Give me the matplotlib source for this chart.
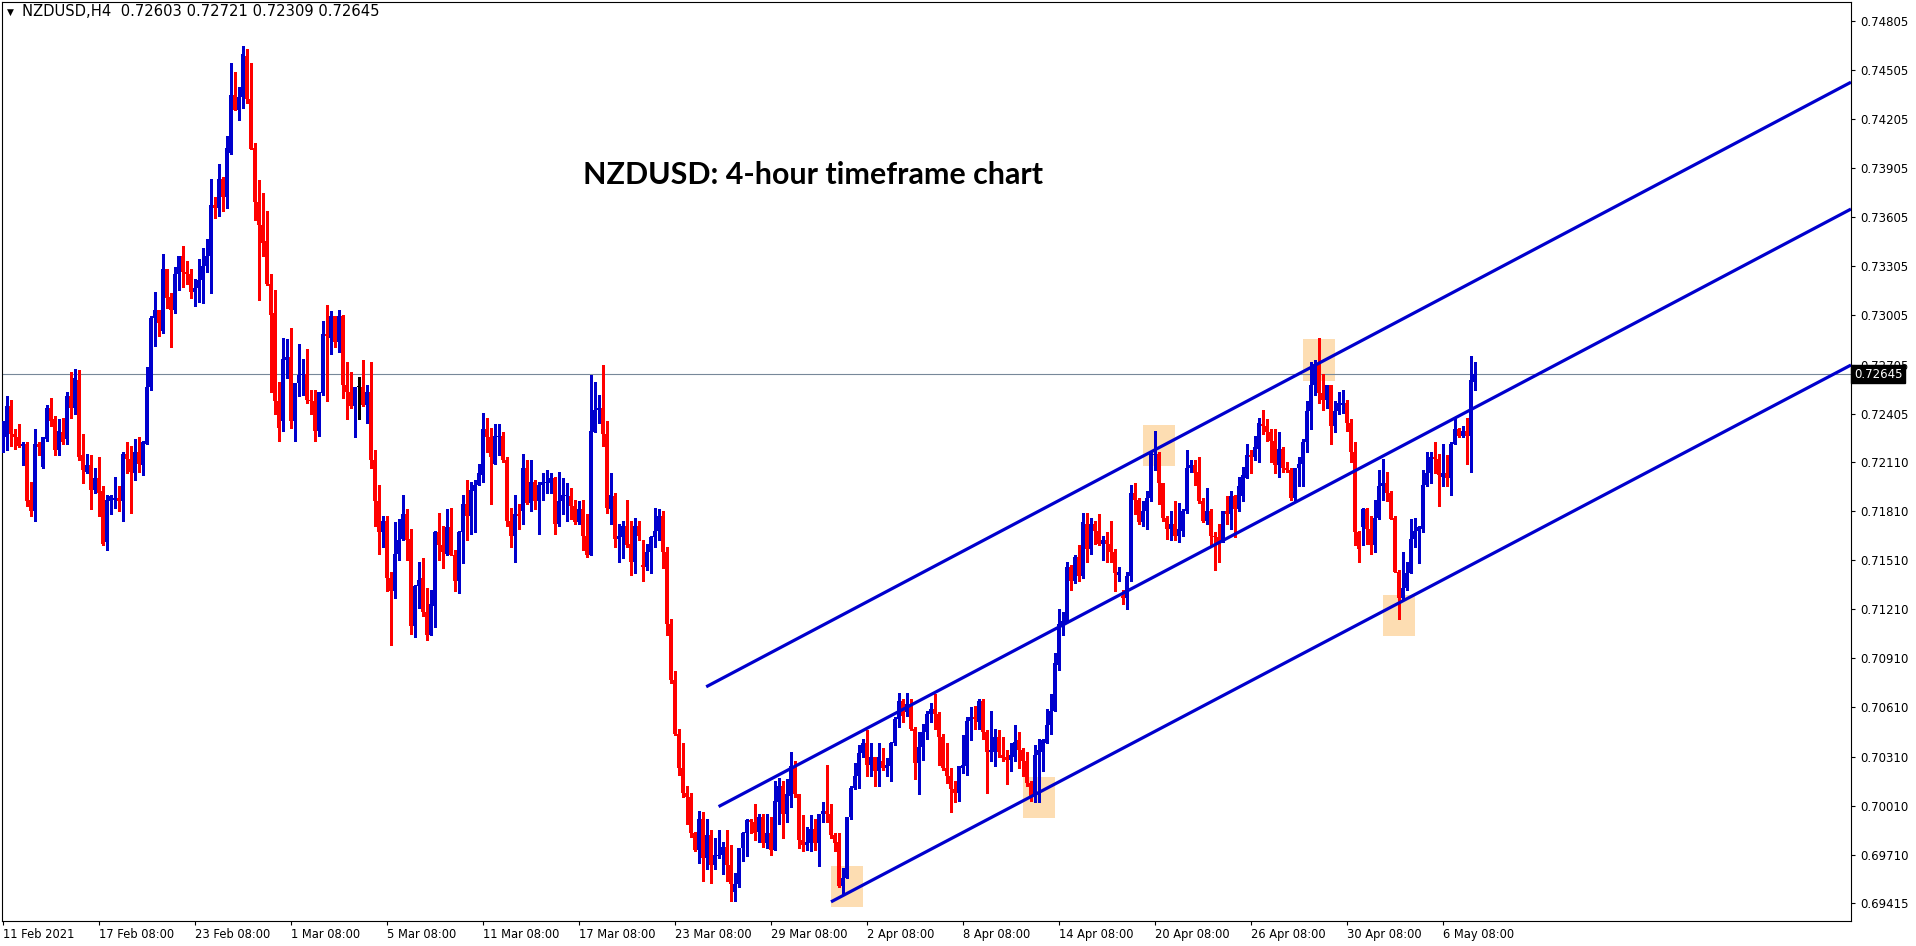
import matplotlib
matplotlib.use("Agg")
import matplotlib.pyplot as plt
from matplotlib.patches import Rectangle
import numpy as np

# H4 candles, prices in pips (x 0.0001), bar 0 = 11 Feb 2021 08:00
opens = [
    7222, 7226, 7245, 7228, 7226, 7221, 7222, 7188, 7181, 7222,
    7208, 7225, 7244, 7237, 7218, 7229, 7225, 7251, 7244, 7261,
    7215, 7205, 7209, 7194, 7201, 7193, 7162, 7187, 7188, 7189,
    7187, 7216, 7213, 7204, 7217, 7209, 7222, 7257, 7299, 7304,
    7291, 7329, 7312, 7304, 7326, 7337, 7327, 7326, 7315, 7317,
    7322, 7331, 7337, 7368, 7366, 7384, 7373, 7400, 7435, 7426,
    7434, 7459, 7433, 7403, 7370, 7356, 7346, 7320, 7302, 7248,
    7236, 7273, 7275, 7236, 7259, 7264, 7265, 7249, 7248, 7230,
    7253, 7289, 7287, 7300, 7284, 7300, 7258, 7254, 7245, 7257,
    7257, 7246, 7254, 7212, 7187, 7168, 7175, 7140, 7132, 7155,
    7164, 7179, 7164, 7111, 7135, 7140, 7119, 7105, 7123, 7168,
    7160, 7155, 7171, 7154, 7138, 7168, 7185, 7178, 7193, 7197,
    7203, 7231, 7226, 7210, 7226, 7227, 7212, 7175, 7166, 7179,
    7181, 7207, 7186, 7199, 7187, 7197, 7198, 7198, 7201, 7173,
    7187, 7190, 7190, 7184, 7174, 7182, 7166, 7154, 7229, 7243,
    7244, 7228, 7182, 7190, 7164, 7165, 7172, 7161, 7150, 7172,
    7148, 7147, 7156, 7165, 7169, 7178, 7156, 7112, 7078, 7045,
    7024, 7009, 7006, 6984, 6974, 6993, 6969, 6983, 6965, 6970,
    6971, 6976, 6965, 6948, 6953, 6975, 6984, 6992, 6991, 6985,
    6994, 6978, 6984, 6974, 7003, 7013, 6996, 7007, 7025, 7008,
    6980, 6977, 6978, 6987, 6978, 6996, 6998, 6996, 6983, 6979,
    6952, 6957, 6994, 7012, 7019, 7033, 7039, 7026, 7031, 7022,
    7028, 7024, 7025, 7039, 7054, 7065, 7058, 7063, 7048, 7027,
    7037, 7046, 7057, 7060, 7057, 7043, 7024, 7019, 7011, 7009,
    7024, 7025, 7053, 7055, 7052, 7065, 7046, 7034, 7034, 7043,
    7032, 7031, 7029, 7031, 7041, 7035, 7028, 7015, 7006, 7032,
    7034, 7039, 7050, 7059, 7087, 7111, 7113, 7147, 7138, 7153,
    7141, 7173, 7158, 7173, 7169, 7161, 7163, 7161, 7156, 7142,
    7129, 7128, 7141, 7192, 7188, 7174, 7181, 7189, 7215, 7216,
    7198, 7177, 7170, 7173, 7166, 7169, 7181, 7207, 7209, 7205,
    7187, 7175, 7181, 7166, 7165, 7162, 7181, 7179, 7190, 7182,
    7190, 7201, 7215, 7214, 7219, 7234, 7233, 7229, 7224, 7209,
    7219, 7207, 7206, 7189, 7207, 7210, 7223, 7242, 7258, 7271,
    7253, 7249, 7258, 7233, 7242, 7246, 7247, 7235, 7217, 7168,
    7171, 7182, 7170, 7160, 7177, 7196, 7198, 7192, 7177, 7144,
    7128, 7134, 7143, 7164, 7169, 7170, 7197, 7204, 7214, 7213,
    7202, 7204, 7201, 7222, 7231, 7227, 7230, 7227, 7260,
]
highs = [
    7236, 7251, 7249, 7231, 7234, 7223, 7223, 7199, 7231, 7223,
    7226, 7246, 7250, 7239, 7237, 7238, 7254, 7266, 7268, 7267,
    7228, 7216, 7215, 7207, 7214, 7196, 7191, 7191, 7202, 7196,
    7217, 7223, 7221, 7225, 7226, 7224, 7269, 7300, 7315, 7304,
    7338, 7329, 7314, 7330, 7337, 7343, 7334, 7329, 7323, 7335,
    7342, 7347, 7384, 7373, 7393, 7385, 7410, 7455, 7449, 7440,
    7465, 7463, 7455, 7406, 7383, 7375, 7364, 7326, 7316, 7260,
    7287, 7286, 7293, 7259, 7283, 7274, 7280, 7255, 7255, 7254,
    7297, 7307, 7303, 7300, 7304, 7301, 7272, 7266, 7257, 7263,
    7273, 7258, 7272, 7218, 7197, 7178, 7178, 7144, 7174, 7176,
    7191, 7182, 7170, 7136, 7150, 7152, 7134, 7133, 7169, 7180,
    7172, 7182, 7183, 7157, 7169, 7191, 7200, 7199, 7200, 7210,
    7241, 7238, 7232, 7234, 7234, 7229, 7214, 7183, 7191, 7185,
    7216, 7212, 7212, 7200, 7199, 7204, 7206, 7204, 7202, 7205,
    7201, 7198, 7195, 7188, 7187, 7188, 7179, 7264, 7260, 7252,
    7270, 7236, 7204, 7192, 7173, 7175, 7188, 7175, 7177, 7175,
    7163, 7161, 7166, 7183, 7182, 7181, 7159, 7115, 7083, 7048,
    7039, 7013, 7009, 6985, 6998, 6997, 6993, 6986, 6981, 6986,
    6979, 6986, 6977, 6960, 6975, 6985, 6993, 6993, 7002, 6996,
    6996, 6996, 6994, 7016, 7018, 7016, 7017, 7034, 7028, 7008,
    6995, 6988, 6995, 6993, 6996, 7003, 7026, 7002, 6984, 6984,
    6963, 6994, 7013, 7027, 7038, 7042, 7047, 7039, 7031, 7039,
    7036, 7030, 7040, 7055, 7070, 7066, 7070, 7066, 7049, 7046,
    7051, 7059, 7064, 7069, 7058, 7045, 7039, 7024, 7016, 7025,
    7044, 7055, 7061, 7062, 7066, 7066, 7047, 7059, 7048, 7047,
    7043, 7035, 7039, 7050, 7046, 7036, 7034, 7016, 7038, 7042,
    7042, 7060, 7069, 7094, 7121, 7119, 7150, 7148, 7154, 7160,
    7180, 7180, 7177, 7175, 7179, 7166, 7168, 7175, 7158, 7147,
    7133, 7144, 7197, 7198, 7189, 7187, 7193, 7217, 7230, 7217,
    7198, 7178, 7181, 7187, 7186, 7182, 7218, 7212, 7212, 7214,
    7189, 7195, 7182, 7168, 7173, 7181, 7190, 7193, 7191, 7202,
    7208, 7222, 7218, 7227, 7238, 7243, 7237, 7231, 7231, 7229,
    7220, 7211, 7207, 7207, 7214, 7225, 7248, 7272, 7273, 7287,
    7265, 7258, 7258, 7248, 7254, 7255, 7249, 7237, 7223, 7169,
    7183, 7183, 7178, 7188, 7206, 7213, 7205, 7193, 7178, 7145,
    7156, 7150, 7176, 7177, 7172, 7206, 7217, 7217, 7223, 7216,
    7222, 7215, 7223, 7238, 7232, 7233, 7238, 7276, 7272,
]
lows = [
    7217, 7218, 7221, 7219, 7220, 7209, 7184, 7178, 7175, 7215,
    7207, 7224, 7233, 7215, 7215, 7222, 7222, 7238, 7240, 7212,
    7198, 7204, 7182, 7192, 7178, 7160, 7157, 7179, 7183, 7181,
    7175, 7204, 7180, 7200, 7205, 7203, 7222, 7255, 7282, 7288,
    7290, 7305, 7281, 7302, 7316, 7318, 7320, 7311, 7306, 7309,
    7308, 7327, 7314, 7360, 7361, 7364, 7366, 7399, 7426, 7420,
    7427, 7430, 7402, 7359, 7310, 7337, 7319, 7254, 7240, 7224,
    7230, 7262, 7232, 7224, 7251, 7252, 7247, 7240, 7224, 7227,
    7252, 7248, 7277, 7281, 7278, 7250, 7237, 7244, 7226, 7237,
    7245, 7235, 7207, 7172, 7155, 7159, 7132, 7099, 7128, 7151,
    7163, 7151, 7106, 7104, 7122, 7117, 7102, 7105, 7110, 7151,
    7146, 7154, 7154, 7132, 7131, 7149, 7163, 7167, 7168, 7197,
    7199, 7217, 7185, 7210, 7215, 7211, 7172, 7159, 7150, 7170,
    7173, 7185, 7181, 7182, 7167, 7188, 7192, 7192, 7167, 7172,
    7179, 7175, 7176, 7173, 7173, 7157, 7153, 7154, 7229, 7235,
    7221, 7180, 7173, 7159, 7150, 7152, 7159, 7142, 7143, 7163,
    7138, 7145, 7143, 7159, 7163, 7146, 7105, 7076, 7044, 7020,
    7006, 6990, 6982, 6973, 6966, 6955, 6962, 6954, 6962, 6969,
    6959, 6955, 6943, 6943, 6951, 6967, 6970, 6984, 6980, 6979,
    6976, 6975, 6971, 6974, 6990, 6981, 6991, 7000, 7006, 6975,
    6973, 6974, 6973, 6974, 6964, 6991, 6991, 6981, 6973, 6951,
    6947, 6957, 6993, 7011, 7012, 7031, 7019, 7019, 7013, 7013,
    7023, 7019, 7016, 7038, 7049, 7052, 7056, 7047, 7017, 7008,
    7029, 7042, 7052, 7048, 7026, 7023, 7015, 6997, 7003, 7004,
    7021, 7020, 7041, 7048, 7048, 7042, 7009, 7028, 7025, 7031,
    7028, 7014, 7022, 7028, 7024, 7019, 7013, 7004, 7003, 7003,
    7022, 7039, 7045, 7059, 7084, 7105, 7113, 7133, 7137, 7138,
    7140, 7150, 7155, 7161, 7160, 7151, 7150, 7150, 7132, 7138,
    7124, 7121, 7138, 7179, 7173, 7172, 7170, 7187, 7206, 7185,
    7175, 7164, 7163, 7163, 7162, 7166, 7180, 7205, 7197, 7186,
    7174, 7173, 7160, 7145, 7150, 7162, 7173, 7170, 7165, 7181,
    7187, 7201, 7204, 7212, 7211, 7228, 7224, 7211, 7204, 7202,
    7205, 7205, 7188, 7188, 7196, 7196, 7217, 7231, 7252, 7247,
    7243, 7244, 7222, 7229, 7240, 7241, 7230, 7211, 7160, 7150,
    7160, 7161, 7155, 7156, 7176, 7188, 7187, 7176, 7144, 7115,
    7127, 7133, 7143, 7159, 7149, 7168, 7196, 7198, 7204, 7184,
    7196, 7196, 7191, 7222, 7226, 7226, 7210, 7205, 7255,
]
closes = [
    7226, 7245, 7228, 7226, 7221, 7222, 7187, 7181, 7222, 7220,
    7226, 7244, 7236, 7218, 7230, 7223, 7251, 7244, 7262, 7214,
    7206, 7209, 7194, 7201, 7192, 7161, 7188, 7190, 7189, 7187,
    7216, 7213, 7205, 7217, 7210, 7223, 7257, 7299, 7304, 7296,
    7329, 7311, 7304, 7326, 7337, 7327, 7326, 7315, 7317, 7322,
    7331, 7337, 7368, 7366, 7384, 7373, 7403, 7435, 7426, 7434,
    7460, 7433, 7402, 7370, 7356, 7345, 7320, 7301, 7248, 7232,
    7274, 7275, 7236, 7259, 7264, 7265, 7249, 7248, 7230, 7254,
    7289, 7288, 7300, 7284, 7300, 7258, 7254, 7245, 7257, 7257,
    7246, 7254, 7212, 7187, 7168, 7175, 7140, 7132, 7155, 7163,
    7179, 7163, 7111, 7135, 7139, 7119, 7105, 7124, 7168, 7160,
    7156, 7171, 7154, 7138, 7168, 7185, 7178, 7194, 7197, 7204,
    7231, 7226, 7214, 7227, 7227, 7212, 7175, 7166, 7179, 7178,
    7207, 7186, 7199, 7187, 7197, 7199, 7199, 7201, 7173, 7187,
    7191, 7191, 7184, 7174, 7182, 7166, 7154, 7230, 7243, 7244,
    7228, 7183, 7191, 7164, 7166, 7172, 7160, 7150, 7172, 7166,
    7147, 7156, 7165, 7169, 7178, 7156, 7112, 7078, 7045, 7024,
    7009, 7006, 6984, 6974, 6993, 6969, 6983, 6965, 6971, 6971,
    6976, 6965, 6953, 6953, 6975, 6984, 6992, 6991, 6984, 6994,
    6978, 6984, 6974, 7004, 7013, 6996, 7008, 7025, 7008, 6980,
    6977, 6979, 6987, 6978, 6996, 6998, 6996, 6983, 6978, 6952,
    6957, 6994, 7012, 7019, 7033, 7039, 7026, 7031, 7022, 7031,
    7024, 7026, 7039, 7054, 7065, 7056, 7063, 7048, 7027, 7037,
    7046, 7057, 7060, 7057, 7043, 7024, 7019, 7011, 7009, 7025,
    7026, 7053, 7055, 7054, 7065, 7046, 7034, 7035, 7043, 7034,
    7030, 7029, 7032, 7040, 7035, 7028, 7015, 7007, 7032, 7035,
    7041, 7050, 7059, 7088, 7112, 7114, 7147, 7138, 7153, 7141,
    7174, 7158, 7173, 7169, 7161, 7163, 7161, 7156, 7143, 7144,
    7128, 7141, 7192, 7188, 7174, 7181, 7189, 7216, 7216, 7198,
    7177, 7170, 7173, 7166, 7170, 7181, 7207, 7209, 7204, 7187,
    7175, 7181, 7166, 7165, 7162, 7181, 7179, 7190, 7182, 7196,
    7203, 7215, 7214, 7220, 7235, 7233, 7229, 7224, 7209, 7219,
    7207, 7206, 7189, 7207, 7210, 7223, 7242, 7258, 7271, 7253,
    7249, 7258, 7233, 7242, 7247, 7247, 7235, 7217, 7168, 7158,
    7182, 7170, 7160, 7177, 7196, 7198, 7192, 7176, 7144, 7128,
    7134, 7143, 7164, 7169, 7171, 7197, 7204, 7214, 7213, 7203,
    7204, 7201, 7222, 7231, 7227, 7230, 7227, 7261, 7265,
]

time_tick_bars = [0, 24, 48, 72, 96, 120, 144, 168, 192, 216, 240, 264, 288, 312, 336, 360]
time_tick_labels = ["11 Feb 2021", "17 Feb 08:00", "23 Feb 08:00", "1 Mar 08:00",
                    "5 Mar 08:00", "11 Mar 08:00", "17 Mar 08:00", "23 Mar 08:00",
                    "29 Mar 08:00", "2 Apr 08:00", "8 Apr 08:00", "14 Apr 08:00",
                    "20 Apr 08:00", "26 Apr 08:00", "30 Apr 08:00", "6 May 08:00"]
price_ticks = [0.74805, 0.74505, 0.74205, 0.73905, 0.73605, 0.73305, 0.73005,
               0.72705, 0.72405, 0.72110, 0.71810, 0.71510, 0.71210, 0.70910,
               0.70610, 0.70310, 0.70010, 0.69710, 0.69415]
last_price = 0.72645

# channel lines: (start bar, start price, end bar, end price)
channel_upper = [175.8, 0.70736, 462.0, 0.74430]
channel_middle = [178.9, 0.70004, 462.0, 0.73655]
channel_lower = [207.0, 0.69422, 462.0, 0.72702]

# highlighted touches: (bar from, bar to, price low, price high)
touch_boxes = [
    (207.0, 214.9, 0.69392, 0.69643),
    (255.0, 262.9, 0.69936, 0.70185),
    (285.0, 292.9, 0.72087, 0.72335),
    (325.0, 332.9, 0.72606, 0.72861),
    (345.0, 352.9, 0.71048, 0.71297),
]

bull = "#0000CD"
bear = "#FF0000"
doji = "#000000"

W, H = 1916, 946
fig = plt.figure(figsize=(W / 100, H / 100), dpi=100)
ax = fig.add_axes([2 / W, 1 - 921 / H, (1851 - 2) / W, (921 - 2) / H])

o = np.array(opens) / 10000
h = np.array(highs) / 10000
l = np.array(lows) / 10000
c = np.array(closes) / 10000
bars = np.arange(len(o))
cols = np.where(c > o, bull, np.where(c < o, bear, doji))

for x0, x1, p0, p1 in touch_boxes:
    ax.add_patch(Rectangle((x0, p0), x1 - x0, p1 - p0, facecolor="#FDDDB2",
                           edgecolor="none", zorder=1))

ax.axhline(last_price, color="#778899", lw=0.8, zorder=2)

ax.vlines(bars, l, h, colors=cols, linewidth=0.9, antialiased=False, zorder=3)
body_h = np.maximum(np.abs(c - o), 0.00006)
ax.bar(bars, body_h, width=0.85, bottom=np.minimum(o, c), color=cols,
       linewidth=0, antialiased=False, zorder=3)

for ln in (channel_upper, channel_middle, channel_lower):
    ax.plot([ln[0], ln[2]], [ln[1], ln[3]], color="#0000CD", lw=2.3,
            solid_capstyle="butt", zorder=4)

ax.set_xlim(-0.25, 462)
ax.set_ylim(0.69305, 0.74920)

ax.yaxis.tick_right()
ax.set_yticks(price_ticks)
ax.set_yticklabels([f"{p:.5f}" for p in price_ticks])
ax.tick_params(axis="y", direction="out", length=3, width=0.8, pad=4, labelsize=8.5)
ax.set_xticks(time_tick_bars)
ax.set_xticklabels(time_tick_labels, ha="left")
ax.tick_params(axis="x", direction="out", length=3, width=0.8, pad=2, labelsize=8.3)
for s in ax.spines.values():
    s.set_color("black")
    s.set_linewidth(0.8)

# black bid label covers part of the 0.72705 tick label, as in the terminal
ax.text(1.0015, last_price, f"{last_price:.5f}", transform=ax.get_yaxis_transform(),
        ha="left", va="center", color="white", fontsize=8.5, clip_on=False, zorder=10,
        bbox=dict(boxstyle="square,pad=0.2", fc="black", ec="black"))

fig.text(812.6 / W, 1 - 175.4 / H, "NZDUSD: 4-hour timeframe chart", ha="center",
         va="center", fontsize=21.9, fontweight="bold", family="Lato")
fig.text(7 / W, 1 - 12 / H, "▼", ha="left", va="center", fontsize=6.5)
fig.text(21.7 / W, 1 - 12 / H, "NZDUSD,H4  0.72603 0.72721 0.72309 0.72645",
         ha="left", va="center", fontsize=10.6)

fig.savefig("out.png", dpi=100)
